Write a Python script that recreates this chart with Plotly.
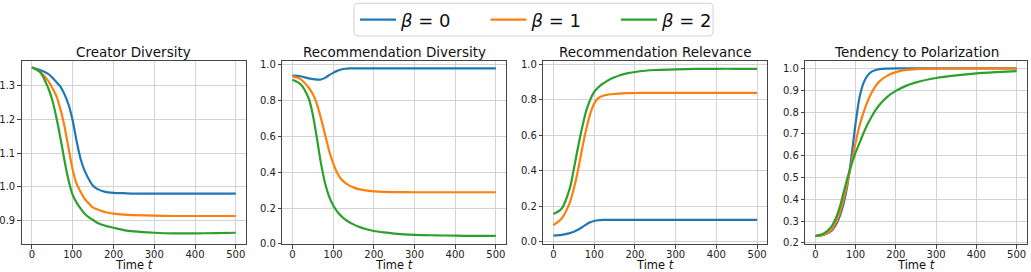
import plotly.graph_objects as go

# ---- data ----
t = [0, 20, 40, 50, 60, 70, 80, 90, 100, 110, 120, 130, 140, 150, 160, 180, 200, 225, 250, 300, 350, 400, 450, 500]

titles = ["Creator Diversity", "Recommendation Diversity", "Recommendation Relevance", "Tendency to Polarization"]
series_names = ["<i>β</i> = 0", "<i>β</i> = 1", "<i>β</i> = 2"]

creator_b0 = [1.355, 1.3475, 1.336, 1.325, 1.312, 1.298, 1.275, 1.244, 1.197, 1.133, 1.080, 1.045, 1.021, 1.002, 0.993, 0.984, 0.981, 0.980, 0.979, 0.979, 0.979, 0.979, 0.979, 0.979]
creator_b1 = [1.355, 1.342, 1.315, 1.294, 1.270, 1.231, 1.179, 1.114, 1.050, 1.007, 0.983, 0.962, 0.949, 0.937, 0.932, 0.923, 0.919, 0.916, 0.9145, 0.913, 0.912, 0.912, 0.912, 0.912]
creator_b2 = [1.355, 1.342, 1.294, 1.258, 1.206, 1.145, 1.077, 1.018, 0.975, 0.951, 0.933, 0.918, 0.908, 0.900, 0.892, 0.883, 0.877, 0.870, 0.866, 0.862, 0.860, 0.860, 0.861, 0.862]

recdiv_b0 = [0.937, 0.934, 0.922, 0.918, 0.915, 0.916, 0.925, 0.940, 0.953, 0.964, 0.972, 0.976, 0.978, 0.978, 0.978, 0.978, 0.978, 0.978, 0.978, 0.978, 0.978, 0.978, 0.978, 0.978]
recdiv_b1 = [0.933, 0.918, 0.870, 0.835, 0.780, 0.700, 0.610, 0.520, 0.450, 0.395, 0.360, 0.340, 0.325, 0.315, 0.307, 0.298, 0.293, 0.290, 0.289, 0.288, 0.288, 0.288, 0.288, 0.288]
recdiv_b2 = [0.915, 0.890, 0.810, 0.720, 0.590, 0.450, 0.340, 0.265, 0.215, 0.180, 0.155, 0.136, 0.121, 0.109, 0.099, 0.083, 0.072, 0.064, 0.058, 0.051, 0.048, 0.046, 0.045, 0.045]

relev_b0 = [0.033, 0.037, 0.047, 0.055, 0.066, 0.080, 0.095, 0.108, 0.116, 0.120, 0.122, 0.122, 0.122, 0.122, 0.122, 0.122, 0.122, 0.122, 0.122, 0.122, 0.122, 0.122, 0.122, 0.122]
relev_b1 = [0.093, 0.130, 0.220, 0.300, 0.400, 0.520, 0.630, 0.720, 0.780, 0.810, 0.822, 0.828, 0.832, 0.834, 0.836, 0.838, 0.839, 0.840, 0.840, 0.840, 0.840, 0.840, 0.840, 0.840]
relev_b2 = [0.155, 0.185, 0.300, 0.410, 0.530, 0.640, 0.735, 0.800, 0.845, 0.872, 0.890, 0.905, 0.918, 0.928, 0.937, 0.950, 0.958, 0.965, 0.969, 0.973, 0.975, 0.976, 0.976, 0.976]

polar_b0 = [0.232, 0.237, 0.255, 0.280, 0.320, 0.380, 0.470, 0.600, 0.750, 0.870, 0.935, 0.968, 0.985, 0.993, 0.997, 0.999, 1.000, 1.000, 1.000, 1.000, 1.000, 1.000, 1.000, 1.000]
polar_b1 = [0.232, 0.238, 0.260, 0.290, 0.335, 0.400, 0.480, 0.570, 0.660, 0.740, 0.800, 0.850, 0.890, 0.920, 0.942, 0.968, 0.983, 0.993, 0.997, 0.999, 1.000, 1.000, 1.000, 1.000]
polar_b2 = [0.232, 0.242, 0.275, 0.310, 0.360, 0.430, 0.500, 0.560, 0.615, 0.660, 0.705, 0.745, 0.780, 0.810, 0.835, 0.872, 0.897, 0.920, 0.936, 0.956, 0.968, 0.977, 0.983, 0.988]

x_ticks = [0, 100, 200, 300, 400, 500]
y_ticks = [
    [0.9, 1.0, 1.1, 1.2, 1.3],
    [0.0, 0.2, 0.4, 0.6, 0.8, 1.0],
    [0.0, 0.2, 0.4, 0.6, 0.8, 1.0],
    [0.2, 0.3, 0.4, 0.5, 0.6, 0.7, 0.8, 0.9, 1.0],
]

panels = [
    [creator_b0, creator_b1, creator_b2],
    [recdiv_b0, recdiv_b1, recdiv_b2],
    [relev_b0, relev_b1, relev_b2],
    [polar_b0, polar_b1, polar_b2],
]
colors = ["#1f77b4", "#ff7f0e", "#2ca02c"]

# ---- layout geometry (pixels) ----
W, H = 1031, 272
x_px = [(21.7, 246.0), (282.3, 506.0), (543.3, 767.3), (805.3, 1026.7)]
y_top, y_bot = 61.0, 244.3
y_ranges = [[0.8275, 1.3746], [-0.002, 1.019], [-0.016, 1.02], [0.194, 1.034]]
x_range = [-25, 525]

fig = go.Figure()
font_family = "DejaVu Sans"

for i, ys in enumerate(panels):
    suf = "" if i == 0 else str(i + 1)
    for j, y in enumerate(ys):
        fig.add_trace(go.Scatter(
            x=t, y=y, mode="lines",
            line=dict(color=colors[j], width=2.2, shape="spline", smoothing=0.8),
            name=series_names[j], legendgroup=str(j), showlegend=(i == 0),
            xaxis="x" + suf, yaxis="y" + suf,
        ))
    dom_x = [x_px[i][0] / W, x_px[i][1] / W]
    dom_y = [(H - y_bot) / H, (H - y_top) / H]
    axcommon = dict(showline=True, linecolor="#444", linewidth=1, mirror=True,
                    ticks="outside", ticklen=3.5, tickcolor="#444", tickwidth=1,
                    showgrid=True, gridcolor="#d3d3d3", gridwidth=1, zeroline=False,
                    automargin=False,
                    tickfont=dict(family=font_family, size=10, color="#222"))
    fig.layout["xaxis" + suf] = dict(domain=dom_x, range=x_range, tickvals=x_ticks,
                                     anchor="y" + suf, ticklabelstandoff=-3, **axcommon)
    fig.layout["yaxis" + suf] = dict(domain=dom_y, range=y_ranges[i], tickvals=y_ticks[i],
                                     tickformat=".1f", anchor="x" + suf, **axcommon)
    cx = (dom_x[0] + dom_x[1]) / 2
    fig.add_annotation(text=titles[i], x=cx, y=(H - 51.5) / H, xref="paper", yref="paper",
                       showarrow=False, xanchor="center", yanchor="middle",
                       font=dict(family=font_family, size=13.5, color="#111"))
    fig.add_annotation(text="Time <i>t</i>", x=cx, y=(H - 264.5) / H, xref="paper", yref="paper",
                       showarrow=False, xanchor="center", yanchor="middle",
                       font=dict(family=font_family, size=11.5, color="#111"))

# legend frame (rounded rectangle)
bx0, bx1, by0, by1, r = 354 / W, 713 / W, (H - 36) / H, (H - 3.3) / H, 4
rx, ry = r / W, r / H
path = (f"M {bx0+rx},{by1} L {bx1-rx},{by1} Q {bx1},{by1} {bx1},{by1-ry} "
        f"L {bx1},{by0+ry} Q {bx1},{by0} {bx1-rx},{by0} L {bx0+rx},{by0} "
        f"Q {bx0},{by0} {bx0},{by0+ry} L {bx0},{by1-ry} Q {bx0},{by1} {bx0+rx},{by1} Z")
fig.add_shape(type="path", path=path, xref="paper", yref="paper",
              line=dict(color="#d0d0d0", width=1), fillcolor="rgba(255,255,255,0.8)", layer="below")

fig.update_layout(
    width=W, height=H,
    margin=dict(l=0, r=0, t=0, b=0, autoexpand=False),
    paper_bgcolor="white", plot_bgcolor="white",
    showlegend=True,
    legend=dict(orientation="h", x=355 / W, xanchor="left", y=(H - 20) / H, yanchor="middle",
                borderwidth=0, bgcolor="rgba(0,0,0,0)",
                font=dict(family=font_family, size=18, color="#111"),
                entrywidth=79.5, entrywidthmode="pixels", itemwidth=36),
)

fig.write_html(
    "out.html",
    config={"displayModeBar": False},
    post_script="document.body.style.margin='0';document.body.style.overflow='hidden';"
                "document.documentElement.style.overflow='hidden';",
)
